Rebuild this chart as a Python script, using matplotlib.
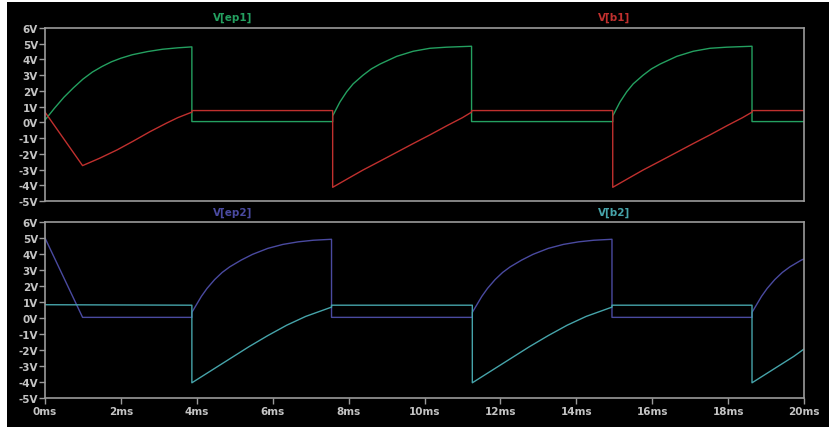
import matplotlib
matplotlib.use("Agg")
import matplotlib.pyplot as plt
from matplotlib.patches import Rectangle

# time in ms, voltage in V
ep1_t = [0, 0.25, 0.5, 0.75, 1.0, 1.25, 1.5, 1.75, 2.0, 2.3, 2.7, 3.1, 3.5, 3.87,
         3.87, 7.58,
         7.58, 7.77, 7.95, 8.12, 8.38, 8.6, 8.83, 9.27, 9.7, 10.14, 10.58, 11.24,
         11.24, 14.96,
         14.96, 15.15, 15.33, 15.5, 15.76, 15.98, 16.21, 16.65, 17.08, 17.52, 17.96, 18.63,
         18.63, 20]
ep1_v = [0.15, 0.9, 1.6, 2.2, 2.75, 3.2, 3.55, 3.85, 4.08, 4.3, 4.5, 4.65, 4.74, 4.8,
         0.05, 0.05,
         0.41, 1.29, 1.95, 2.45, 3.0, 3.4, 3.71, 4.2, 4.52, 4.71, 4.78, 4.84,
         0.05, 0.05,
         0.41, 1.29, 1.95, 2.45, 3.0, 3.4, 3.71, 4.2, 4.52, 4.71, 4.78, 4.84,
         0.05, 0.05]

b1_t = [0, 0.99, 1.44, 1.9, 2.32, 2.76, 3.2, 3.5, 3.87,
        3.87, 7.58,
        7.58, 8.0, 8.38, 8.8, 9.27, 9.7, 10.14, 10.6, 11.0, 11.24,
        11.24, 14.96,
        14.96, 15.38, 15.76, 16.18, 16.65, 17.08, 17.52, 17.98, 18.38, 18.63,
        18.63, 20]
b1_v = [0.65, -2.75, -2.28, -1.75, -1.2, -0.6, -0.05, 0.3, 0.65,
        0.75, 0.75,
        -4.13, -3.55, -3.03, -2.5, -1.9, -1.35, -0.8, -0.2, 0.3, 0.65,
        0.75, 0.75,
        -4.13, -3.55, -3.03, -2.5, -1.9, -1.35, -0.8, -0.2, 0.3, 0.65,
        0.75, 0.75]

ep2_t = [0, 0.99, 3.87,
         3.87, 3.97, 4.12, 4.27, 4.47, 4.67, 4.87, 5.17, 5.47, 5.87, 6.27, 6.67, 7.07, 7.55,
         7.55, 11.26,
         11.26, 11.36, 11.51, 11.66, 11.86, 12.06, 12.26, 12.56, 12.86, 13.26, 13.66, 14.06, 14.46, 14.94,
         14.94, 18.63,
         18.63, 18.73, 18.88, 19.03, 19.23, 19.43, 19.63, 19.93, 20]
ep2_v = [5.0, 0.04, 0.04,
         0.35, 0.75, 1.35, 1.85, 2.4, 2.85, 3.2, 3.62, 3.98, 4.35, 4.6, 4.76, 4.86, 4.92,
         0.04, 0.04,
         0.35, 0.75, 1.35, 1.85, 2.4, 2.85, 3.2, 3.62, 3.98, 4.35, 4.6, 4.76, 4.86, 4.92,
         0.04, 0.04,
         0.35, 0.75, 1.35, 1.85, 2.4, 2.85, 3.2, 3.62, 3.69]

b2_t = [0, 3.87,
        3.87, 4.17, 4.57, 4.97, 5.37, 5.87, 6.37, 6.87, 7.55,
        7.55, 11.26,
        11.26, 11.56, 11.96, 12.36, 12.76, 13.26, 13.76, 14.26, 14.94,
        14.94, 18.63,
        18.63, 18.93, 19.33, 19.73, 20]
b2_v = [0.83, 0.8,
        -4.05, -3.6, -3.0, -2.4, -1.8, -1.1, -0.45, 0.1, 0.68,
        0.8, 0.8,
        -4.05, -3.6, -3.0, -2.4, -1.8, -1.1, -0.45, 0.1, 0.68,
        0.8, 0.8,
        -4.05, -3.6, -3.0, -2.4, -1.94]

volt_ticks = list(range(-5, 7))
volt_labels = ["%dV" % v for v in volt_ticks]
ms_ticks = list(range(0, 21, 2))
ms_labels = ["%dms" % t for t in ms_ticks]

fg = "#c4c4c4"
frame = "#9a9a9a"

fig = plt.figure(figsize=(8.36, 4.31), dpi=100, facecolor="white")
# black screen area inside the thin white border
fig.patches.append(Rectangle((7 / 836, 1 - 428 / 431), 822 / 836, 425 / 431,
                             transform=fig.transFigure, facecolor="black",
                             edgecolor="none", zorder=-10))

ax1 = fig.add_axes([45 / 836, 1 - 202 / 431, 759 / 836, 173 / 431])
ax2 = fig.add_axes([45 / 836, 1 - 399 / 431, 759 / 836, 176 / 431])

ax1.plot(ep1_t, ep1_v, color="#24a060", lw=1.0)
ax1.plot(b1_t, b1_v, color="#c0302e", lw=1.0)
ax2.plot(ep2_t, ep2_v, color="#4a4aa0", lw=1.0)
ax2.plot(b2_t, b2_v, color="#46a4aa", lw=1.0)

for ax in (ax1, ax2):
    ax.set_facecolor("black")
    ax.set_xlim(0, 20)
    ax.set_ylim(-5, 6)
    ax.set_yticks(volt_ticks)
    ax.set_yticklabels(volt_labels)
    for s in ax.spines.values():
        s.set_color(frame)
        s.set_linewidth(1.2)
    ax.tick_params(axis="y", colors=frame, labelcolor=fg, length=4, width=1,
                   labelsize=7.5, pad=1)
    for lab in ax.get_yticklabels():
        lab.set_fontweight("bold")

ax1.set_xticks([])
ax2.set_xticks(ms_ticks)
ax2.set_xticklabels(ms_labels)
ax2.tick_params(axis="x", colors=frame, labelcolor=fg, length=4, width=1,
                labelsize=7.5, pad=2)
for lab in ax2.get_xticklabels():
    lab.set_fontweight("bold")

fig.text(233 / 836, 1 - 18 / 431, "V[ep1]", color="#24a060", fontsize=7.5,
         fontweight="bold", ha="center", va="center")
fig.text(614 / 836, 1 - 18 / 431, "V[b1]", color="#c0302e", fontsize=7.5,
         fontweight="bold", ha="center", va="center")
fig.text(233 / 836, 1 - 213 / 431, "V[ep2]", color="#4a4aa0", fontsize=7.5,
         fontweight="bold", ha="center", va="center")
fig.text(614 / 836, 1 - 213 / 431, "V[b2]", color="#46a4aa", fontsize=7.5,
         fontweight="bold", ha="center", va="center")

fig.savefig("out.png", dpi=100, facecolor=fig.get_facecolor())
